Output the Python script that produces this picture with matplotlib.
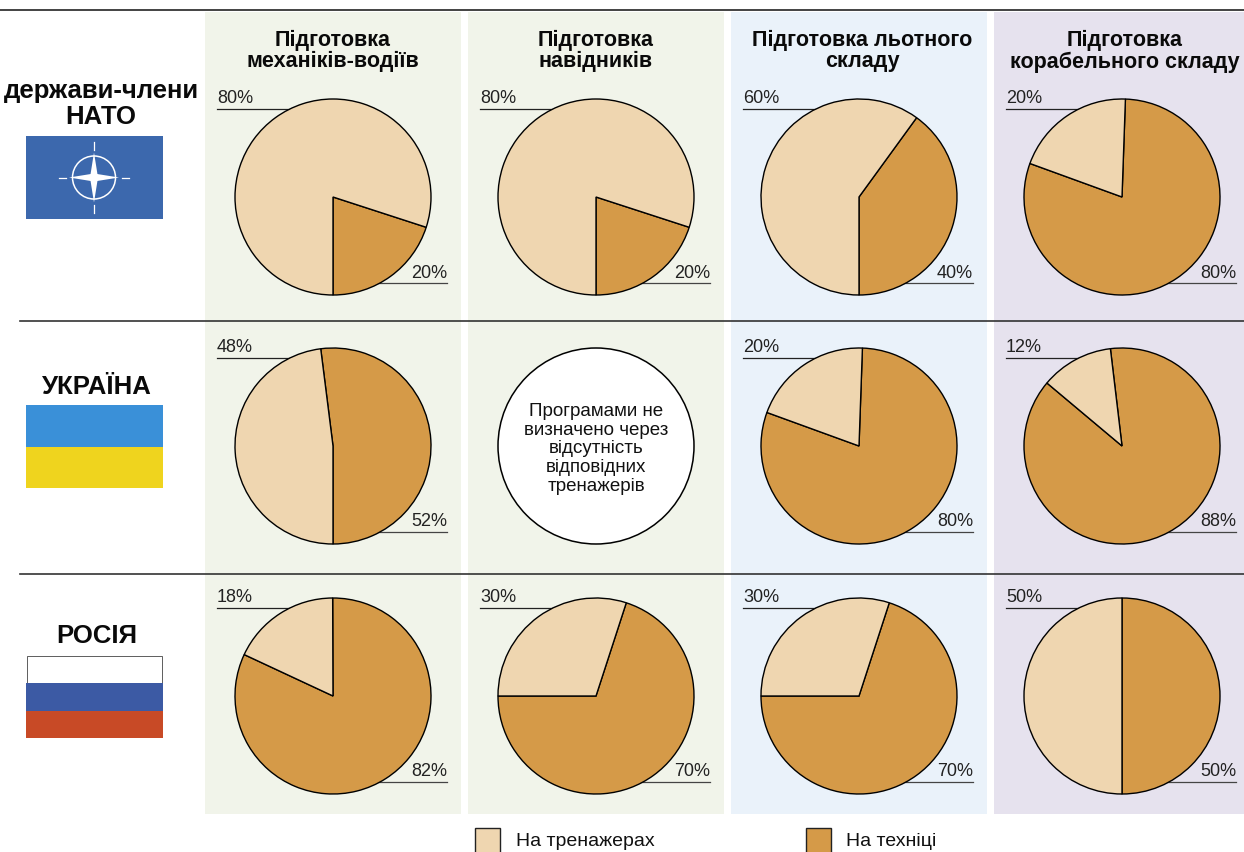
import matplotlib
matplotlib.use('Agg')
import matplotlib.pyplot as plt
from matplotlib.patches import Rectangle, Circle, Polygon
from matplotlib import font_manager as fm

W, H = 1244, 853

names = {f.name for f in fm.fontManager.ttflist}
print(sorted(n for n in names if 'Liberation' in n or 'Roboto' in n))
FONT = 'Liberation Sans Narrow' if 'Liberation Sans Narrow' in names else 'Liberation Sans'
plt.rcParams['font.family'] = [FONT, 'DejaVu Sans']

# share of training done on simulators, per row and column (None = no programme)
row_names = ['держави-члени\nНАТО', 'УКРАЇНА', 'РОСІЯ']
col_names = ['Підготовка\nмеханіків-водіїв', 'Підготовка\nнавідників',
             'Підготовка льотного\nскладу', 'Підготовка\nкорабельного складу']
simulators = [[80, 80, 60, 20],
              [48, None, 20, 12],
              [18, 30, 30, 50]]
technique = [[20, 20, 40, 80],
             [52, None, 80, 88],
             [82, 70, 70, 50]]
no_data_text = 'Програмами не\nвизначено через\nвідсутність\nвідповідних\nтренажерів'
legend_labels = ['На тренажерах', 'На техніці']

# layout
start_angles = [[270, 270, 270, 160],
                [270, None, 160, 140],
                [155, 180, 180, 270]]
col_x = [333, 596, 859, 1122]
row_y = [198, 447, 697]
R = 98
panel_x = [205, 468, 731, 994]
panel_colors = ['#f1f4ea', '#f1f4ea', '#eaf2fa', '#e6e2ee']
SIM = '#efd6b0'
TECH = '#d59a48'

fig = plt.figure(figsize=(W / 100, H / 100), dpi=100)
bg = fig.add_axes([0, 0, 1, 1])
bg.set_xlim(0, W)
bg.set_ylim(H, 0)
bg.axis('off')

for x, c in zip(panel_x, panel_colors):
    bg.add_patch(Rectangle((x, 13), 256, 802, fc=c, ec='none', zorder=0))

# rules
bg.plot([0, W], [11, 11], color='#222222', lw=1.2, zorder=1)
bg.plot([20, W], [322, 322], color='#333333', lw=1.2, zorder=1)
bg.plot([20, W], [574.5, 574.5], color='#333333', lw=1.2, zorder=1)

# column titles
for x, t in zip(col_x, col_names):
    bg.text(x + (3 if x == 859 or x == 1122 else 0), 51, t, ha='center', va='center', fontsize=15.5,
            fontweight='bold', linespacing=1.05, color='#0a0a0a')

# row titles
bg.text(101, 104, row_names[0], ha='center', va='center', fontsize=18.5, fontweight='bold',
        linespacing=1.08, color='#0a0a0a')
bg.text(97, 387, row_names[1], ha='center', va='center', fontsize=18.5, fontweight='bold', color='#0a0a0a')
bg.text(97, 636, row_names[2], ha='center', va='center', fontsize=18.5, fontweight='bold', color='#0a0a0a')

# flags
bg.add_patch(Rectangle((26, 137), 137, 83, fc='#3c68ad', ec='none'))
cx, cy = 94, 178.5
bg.add_patch(Circle((cx, cy), 21.5, fc='none', ec='white', lw=1.1))
for dx, dy in [(0, -25), (0, 25), (-25, 0), (25, 0)]:
    px, py = -dy * 0.16, dx * 0.16
    bg.add_patch(Polygon([(cx + px, cy + py), (cx + dx, cy + dy), (cx - px, cy - py)],
                         fc='white', ec='none'))
for a, b in [((cx, 143), (cx, 151)), ((cx, 206), (cx, 214)),
             ((59, cy), (66, cy)), ((122, cy), (129, cy))]:
    bg.plot([a[0], b[0]], [a[1], b[1]], color='white', lw=0.9)

bg.add_patch(Rectangle((26, 406), 137, 41.5, fc='#3a90d8', ec='none'))
bg.add_patch(Rectangle((26, 447.5), 137, 41.5, fc='#efd41e', ec='none'))

bg.add_patch(Rectangle((26.5, 656.5), 135.5, 27, fc='white', ec='#444444', lw=0.6))
bg.add_patch(Rectangle((26, 683.5), 137, 28, fc='#3c5aa4', ec='none'))
bg.add_patch(Rectangle((26, 711.5), 137, 27.5, fc='#c84a26', ec='none'))

# pies
for r, cy in enumerate(row_y):
    for c, cx in enumerate(col_x):
        sim = simulators[r][c]
        tech = technique[r][c]
        ax = fig.add_axes([(cx - R - 2) / W, 1 - (cy + R + 2) / H, (2 * R + 4) / W, (2 * R + 4) / H])
        ax.set_xlim(-(R + 2), R + 2)
        ax.set_ylim(-(R + 2), R + 2)
        ax.axis('off')
        if sim is None:
            ax.add_patch(Circle((0, 0), R, fc='white', ec='black', lw=1.1))
            ax.text(0, -2, no_data_text, ha='center', va='center', fontsize=13.5, linespacing=1.12,
                    color='#111111')
            continue
        ax.pie([tech, sim], colors=[TECH, SIM], startangle=start_angles[r][c], radius=R,
               wedgeprops={'edgecolor': 'black', 'linewidth': 1.0}, frame=True)
        ax.set_xlim(-(R + 2), R + 2)
        ax.set_ylim(-(R + 2), R + 2)
        ax.axis('off')

        # labels with leader lines
        px = panel_x[c]
        bg.plot([px + 12, px + 84], [cy - 88, cy - 88], color='#222222', lw=0.9, zorder=1)
        bg.text(px + 12, cy - 99.5, f'{sim}%', ha='left', va='center', fontsize=13, color='#222222')
        bg.plot([cx + 45, px + 242], [cy + 86, cy + 86], color='#444444', lw=0.9, zorder=1)
        bg.text(px + 242, cy + 75, f'{tech}%', ha='right', va='center', fontsize=13, color='#222222')

# legend
bg.add_patch(Rectangle((475, 829), 25, 30, fc=SIM, ec='#222222', lw=1.0))
bg.text(516, 842, legend_labels[0], ha='left', va='center', fontsize=14, color='#111111')
bg.add_patch(Rectangle((806, 829), 25, 30, fc=TECH, ec='#222222', lw=1.0))
bg.text(846, 842, legend_labels[1], ha='left', va='center', fontsize=14, color='#111111')

fig.savefig('out.png', dpi=100)
